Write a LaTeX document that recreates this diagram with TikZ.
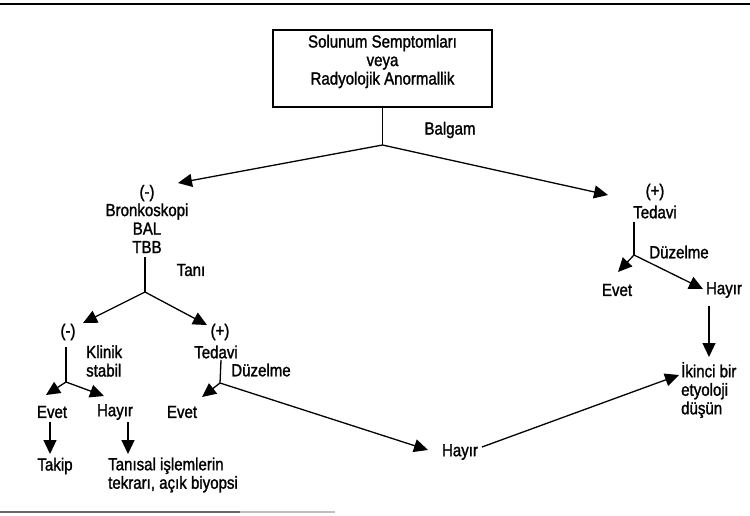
\documentclass[tikz,border=0pt]{standalone}
\usepackage{fontspec}
\setmainfont[FakeStretch=0.86,FakeBold=1.4]{Liberation Sans}
\usetikzlibrary{arrows.meta}
\begin{document}
\begin{tikzpicture}[x=1pt,y=-1pt,
  every node/.style={font=\fontsize{17.5}{18.5}\selectfont, inner sep=0pt, align=center},
  link/.style={line width=1.3pt},
  arr/.style={link,-{Triangle[length=14pt,width=13pt]}},
  rule/.style={line width=1.8pt},
  ]
\useasboundingbox (0,0) rectangle (750,515);

% page rules
\draw[rule] (0,4) -- (750,4);
\draw[line width=1.4pt, black!60] (0,512) -- (240,512);
\draw[line width=1.2pt, black!25] (240,512) -- (335,512);

% start box
\node[draw, line width=1.3pt, minimum width=219pt, minimum height=77pt] (box) at (382.5,68.5) {};
\node (boxtext) at ([yshift=7pt]box.center) {Solunum Semptomları\\veya\\Radyolojik Anormallik};

% sputum split
\coordinate (j1) at (382.5,145);
\coordinate (t1) at (178,183);
\coordinate (t2) at (608,195);
\node (balgam) at (450,130) {Balgam};
\draw[link] (box.south) -- (j1);
\draw[arr] (j1) -- (t1);
\draw[arr] (j1) -- (t2);

% negative sputum: bronchoscopy
\node (bronk) at (147,219) {(-)\\Bronkoskopi\\BAL\\TBB};
\node (tani) at (191,270) {Tanı};
\coordinate (s2) at (145,257);
\coordinate (j2) at (145,292);
\coordinate (t3) at (83,323);
\coordinate (t4) at (207,325);
\draw[link] (s2) -- (j2);
\draw[arr] (j2) -- (t3);
\draw[arr] (j2) -- (t4);

% diagnosis negative
\node (minus2) at (68,332) {(-)};
\node[anchor=west, align=left] (klinik) at (86,361) {Klinik\\stabil};
\coordinate (s3) at (66,347);
\coordinate (j3) at (66,382);
\coordinate (t5) at (46,395);
\coordinate (t6) at (104,396);
\draw[link] (s3) -- (j3);
\draw[arr] (j3) -- (t5);
\draw[arr] (j3) -- (t6);
\node (evet1) at (52,412) {Evet};
\node (hayir1) at (115,412) {Hayır};
\coordinate (s4) at (50,422);
\coordinate (t7) at (50,454);
\coordinate (s5) at (128,422);
\coordinate (t8) at (128,454);
\draw[arr] (s4) -- (t7);
\draw[arr] (s5) -- (t8);
\node (takip) at (55,466) {Takip};
\node[anchor=west, align=left] (tanisal) at (108,475) {Tanısal işlemlerin\\tekrarı, açık biyopsi};

% diagnosis positive
\node (plus2) at (220,332) {(+)};
\node (tedavi2) at (216,352) {Tedavi};
\node (duz1) at (261,370) {Düzelme};
\coordinate (s6) at (221,360);
\coordinate (j4) at (220,383);
\coordinate (t9) at (202,397);
\coordinate (t10) at (428,450);
\draw[link] (s6) -- (j4);
\draw[arr] (j4) -- (t9);
\draw[arr] (j4) -- (t10);
\node (evet2) at (182,412) {Evet};
\node (hayir2) at (460,452) {Hayır};

% positive sputum: treatment
\node (plus1) at (655,192) {(+)};
\node (tedavi1) at (655,212) {Tedavi};
\node (duz2) at (679,252) {Düzelme};
\coordinate (s8) at (634,222);
\coordinate (j5) at (634,255);
\coordinate (t12) at (618,272);
\coordinate (t13) at (703,289);
\draw[link] (s8) -- (j5);
\draw[arr] (j5) -- (t12);
\draw[arr] (j5) -- (t13);
\node (evet3) at (617,290) {Evet};
\node (hayir3) at (724,290) {Hayır};

% second aetiology
\node[anchor=west, align=left] (ikinci) at (681,390) {İkinci bir\\etyoloji\\düşün};
\coordinate (s9) at (709,306);
\coordinate (t14) at (709,357);
\draw[arr] (s9) -- (t14);
\coordinate (s7) at (482,447);
\coordinate (t11) at (679,375);
\draw[arr] (s7) -- (t11);
\end{tikzpicture}
\end{document}
